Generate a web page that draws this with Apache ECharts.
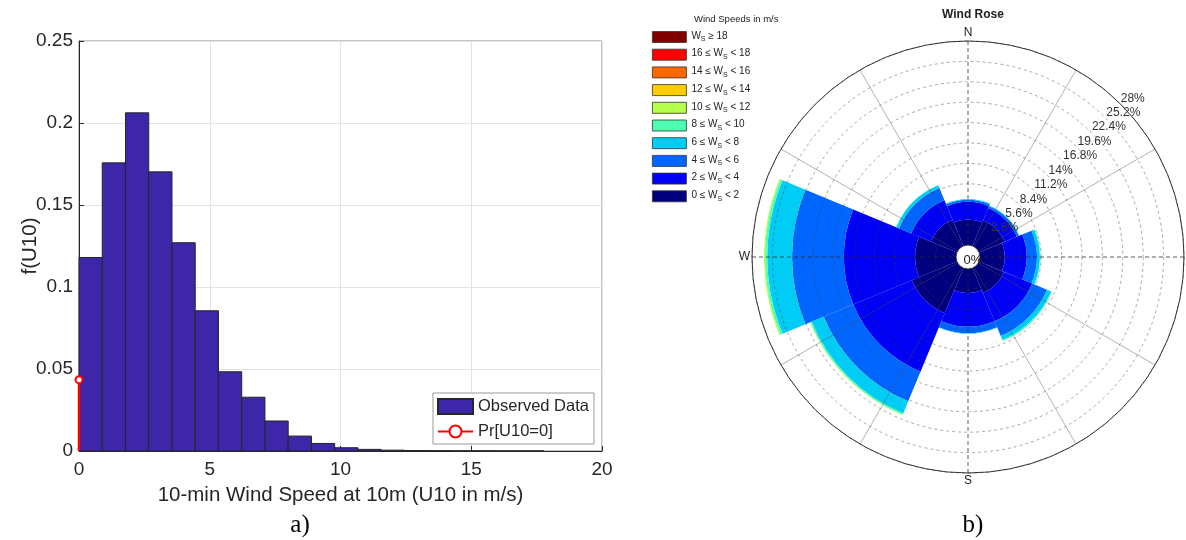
<!DOCTYPE html>
<html><head><meta charset="utf-8">
<script src="https://cdn.jsdelivr.net/npm/echarts@6/dist/echarts.min.js"></script>
<style>html,body{margin:0;padding:0;background:#fff}#c{width:1186px;height:540px}</style>
</head><body><div id="c"></div>
<script>
// ---------- Histogram (a) ----------
const binEdges = [0, 0.889, 1.778, 2.667, 3.556, 4.444, 5.333, 6.222, 7.111, 8.0, 8.889, 9.778, 10.667, 11.556, 12.444, 13.333, 14.222, 15.111, 16.0, 16.889, 17.778];
const density  = [0.118, 0.1757, 0.2062, 0.1702, 0.127, 0.0855, 0.0483, 0.0328, 0.0183, 0.0091, 0.0046, 0.0020, 0.0010, 0.0005, 0.0003, 0.0002, 0.0001, 0.0001, 0.00005, 0.00003];
const prU10Zero = 0.0435;
const xTickLabels = ['0', '5', '10', '15', '20'];
const yTickLabels = ['0', '0.05', '0.1', '0.15', '0.2', '0.25'];

// ---------- Wind rose (b) ----------
const directions = ['N', 'NE', 'E', 'SE', 'S', 'SW', 'W', 'NW'];
const bandNames = ['0 ≤ Ws < 2', '2 ≤ Ws < 4', '4 ≤ Ws < 6', '6 ≤ Ws < 8', '8 ≤ Ws < 10', '10 ≤ Ws < 12', '12 ≤ Ws < 14', '14 ≤ Ws < 16', '16 ≤ Ws < 18', 'Ws ≥ 18'];
const ws0_2   = [3.5, 3.8, 3.4, 3.7, 3.3, 6.7, 5.6, 3.9];
const ws2_4   = [2.4, 1.8, 3.0, 4.2, 4.6, 8.7, 9.8, 2.9];
const ws4_6   = [0.3, 0.3, 1.4, 2.2, 0.9, 4.4, 7.1, 1.8];
const ws6_8   = [0.1, 0.1, 0.4, 0.6, 0.05, 1.8, 3.4, 0.4];
const ws8_10  = [0, 0, 0.1, 0.15, 0, 0.2, 0.3, 0.05];
const ws10_12 = [0, 0, 0, 0, 0, 0.05, 0.15, 0];
const ws12_14 = [0, 0, 0, 0, 0, 0, 0, 0];
const ws14_16 = [0, 0, 0, 0, 0, 0, 0, 0];
const ws16_18 = [0, 0, 0, 0, 0, 0, 0, 0];
const ws18up  = [0, 0, 0, 0, 0, 0, 0, 0];
const ringLabels = ['', '2.8%', '5.6%', '8.4%', '11.2%', '14%', '16.8%', '19.6%', '22.4%', '25.2%', '28%'];
const compassLabels = ['N', 'E', 'S', 'W'];

const bandValues = [ws0_2, ws2_4, ws4_6, ws6_8, ws8_10, ws10_12, ws12_14, ws14_16, ws16_18, ws18up];
const bandColors = ['#00007f', '#0000f5', '#0066ff', '#00ccf5', '#4dffb0', '#b5ff4a', '#ffcc00', '#ff6600', '#ff0000', '#800000'];

const FONT = 'Liberation Sans, Arial, sans-serif';
const chart = echarts.init(document.getElementById('c'));

const histData = density.map((d, i) => [binEdges[i], binEdges[i + 1], d]);

const roseSeries = bandNames.map((name, i) => ({
  name: name,
  type: 'bar',
  coordinateSystem: 'polar',
  polarIndex: 0,
  stack: 'ws',
  barCategoryGap: '0%',
  data: bandValues[i],
  itemStyle: { color: bandColors[i] },
  z: 2
}));

function richName(name) {
  const parts = name.split('Ws');
  return '{m|' + parts[0] + 'W}{s|S}{m|' + parts[1] + '}';
}

const option = {
  animation: false,
  backgroundColor: '#fff',
  title: [
    { text: 'Wind Rose', left: 968, top: 4, textAlign: 'center',
      textStyle: { fontFamily: FONT, fontSize: 12, fontWeight: 'bold', color: '#222' } },
    { text: 'Wind Speeds in m/s', left: 689, top: 9,
      textStyle: { fontFamily: FONT, fontSize: 9.5, fontWeight: 'normal', color: '#222' } },
    { text: '0%', left: 968, top: 249, textAlign: 'center',
      textStyle: { fontFamily: FONT, fontSize: 13, fontWeight: 'normal', color: '#222' } },
    { text: 'a)', left: 295, top: 508, textAlign: 'center',
      textStyle: { fontFamily: 'Liberation Serif, Times New Roman, serif', fontSize: 25, fontWeight: 'normal', color: '#000' } },
    { text: 'b)', left: 968, top: 508, textAlign: 'center',
      textStyle: { fontFamily: 'Liberation Serif, Times New Roman, serif', fontSize: 25, fontWeight: 'normal', color: '#000' } }
  ],
  legend: [
    {
      data: [{ name: 'Observed Data', icon: 'rect' }, { name: 'Pr[U10=0]' }],
      orient: 'vertical', left: 433, top: 393,
      itemWidth: 35, itemHeight: 15, itemGap: 8,
      padding: [5, 5, 4, 4],
      backgroundColor: '#fff', borderColor: '#999', borderWidth: 1, borderRadius: 0,
      selectedMode: false,
      textStyle: { fontFamily: FONT, fontSize: 16.5, color: '#262626' }
    },
    {
      data: bandNames.slice().reverse(),
      orient: 'vertical', left: 652, top: 29,
      itemWidth: 34, itemHeight: 11, itemGap: 3.7,
      padding: 0, icon: 'rect', selectedMode: false,
      itemStyle: { borderColor: '#333', borderWidth: 0.8 },
      formatter: richName,
      textStyle: {
        fontFamily: FONT, fontSize: 10, color: '#222',
        rich: {
          m: { fontFamily: FONT, fontSize: 10, color: '#222', verticalAlign: 'top', lineHeight: 12 },
          s: { fontFamily: FONT, fontSize: 7, color: '#222', verticalAlign: 'bottom', lineHeight: 8, padding: [7, 0, 0, 0] }
        }
      }
    }
  ],
  grid: { left: 79, top: 41, width: 523, height: 410, show: true, borderColor: '#8a8a8a', borderWidth: 1 },
  xAxis: {
    type: 'value', min: 0, max: 20, interval: 5,
    name: '10-min Wind Speed at 10m (U10 in m/s)', nameLocation: 'middle', nameGap: 34,
    nameMoveOverlap: false,
    nameTextStyle: { fontFamily: FONT, fontSize: 20.5, color: '#262626' },
    axisLine: { onZero: false, lineStyle: { color: '#262626', width: 1 } },
    axisTick: { inside: true, length: 5, lineStyle: { color: '#262626' } },
    axisLabel: { fontFamily: FONT, fontSize: 19, color: '#262626', margin: 9,
      formatter: (v, i) => xTickLabels[i] },
    splitLine: { show: true, lineStyle: { color: '#e3e3e3', width: 1 } }
  },
  yAxis: {
    type: 'value', min: 0, max: 0.25, interval: 0.05,
    name: 'f(U10)', nameLocation: 'middle', nameGap: 38,
    nameMoveOverlap: false,
    nameTextStyle: { fontFamily: FONT, fontSize: 20.5, color: '#262626' },
    axisLine: { show: true, lineStyle: { color: '#262626', width: 1 } },
    axisTick: { show: true, inside: true, length: 5, lineStyle: { color: '#262626' } },
    axisLabel: { fontFamily: FONT, fontSize: 19, color: '#262626', margin: 6,
      formatter: (v, i) => yTickLabels[i] },
    splitLine: { show: true, lineStyle: { color: '#e3e3e3', width: 1 } }
  },
  polar: [
    { center: [968, 257], radius: [12, 216] },
    { center: [968, 257], radius: [12, 216] },
    { center: [968, 257], radius: [12, 216] },
    { center: [968, 257], radius: [12, 216] }
  ],
  angleAxis: [
    { polarIndex: 0, type: 'category', data: directions, startAngle: 112.5, clockwise: true,
      axisLine: { show: false }, axisTick: { show: false }, axisLabel: { show: false }, splitLine: { show: false } },
    { polarIndex: 1, type: 'value', min: 0, max: 360, interval: 30, startAngle: 90, clockwise: true, z: 10,
      axisLine: { show: true, lineStyle: { color: '#333', width: 1 } },
      axisTick: { show: false },
      axisLabel: { show: true, margin: 2, fontFamily: FONT, fontSize: 12, color: '#222',
        formatter: (v) => (v % 90 === 0 && v < 360) ? compassLabels[v / 90] : '' },
      splitLine: { show: true, lineStyle: { color: ['rgba(0,0,0,0)', 'rgba(80,80,80,0.55)', 'rgba(80,80,80,0.55)'], width: 0.8 } } },
    { polarIndex: 2, type: 'value', min: 0, max: 360, interval: 90, startAngle: 90, clockwise: true, z: 11,
      axisLine: { show: false }, axisTick: { show: false }, axisLabel: { show: false },
      splitLine: { show: true, lineStyle: { color: 'rgba(40,40,40,0.75)', type: [4, 3], width: 1 } } },
    { polarIndex: 3, type: 'value', min: 0, max: 360, startAngle: 45, clockwise: true,
      axisLine: { show: false }, axisTick: { show: false }, axisLabel: { show: false }, splitLine: { show: false } }
  ],
  radiusAxis: [
    { polarIndex: 0, min: 0, max: 28, show: false,
      axisLine: { show: false }, axisTick: { show: false }, axisLabel: { show: false }, splitLine: { show: false } },
    { polarIndex: 1, min: 0, max: 28, interval: 2.8, z: 10,
      axisLine: { show: false }, axisTick: { show: false }, axisLabel: { show: false },
      splitLine: { show: true, lineStyle: { color: ['rgba(0,0,0,0)', 'rgba(60,60,60,0.55)', 'rgba(60,60,60,0.55)', 'rgba(60,60,60,0.55)', 'rgba(60,60,60,0.55)', 'rgba(60,60,60,0.55)', 'rgba(60,60,60,0.55)', 'rgba(60,60,60,0.55)', 'rgba(60,60,60,0.55)', 'rgba(60,60,60,0.55)', 'rgba(60,60,60,0.55)'], type: [3, 3], width: 0.8 } } },
    { polarIndex: 2, min: 0, max: 28, show: false,
      axisLine: { show: false }, axisTick: { show: false }, axisLabel: { show: false }, splitLine: { show: false } },
    { polarIndex: 3, min: 0, max: 28, interval: 2.8, z: 12,
      axisLine: { show: false }, axisTick: { show: false }, splitLine: { show: false },
      axisLabel: { show: true, margin: 0, align: 'left', verticalAlign: 'bottom', rotate: 0,
        fontFamily: FONT, fontSize: 12, color: '#333',
        formatter: (v, i) => ringLabels[i] || '' } }
  ],
  series: [
    {
      name: 'Observed Data',
      type: 'custom',
      xAxisIndex: 0, yAxisIndex: 0,
      data: histData,
      encode: { x: [0, 1], y: 2 },
      itemStyle: { color: '#3e26a8', borderColor: '#262626', borderWidth: 1 },
      renderItem: function (params, api) {
        const p0 = api.coord([api.value(0), api.value(2)]);
        const p1 = api.coord([api.value(1), 0]);
        return {
          type: 'rect',
          shape: { x: p0[0], y: p0[1], width: p1[0] - p0[0], height: p1[1] - p0[1] },
          style: { fill: '#3e26a8', stroke: '#262626', lineWidth: 1 }
        };
      },
      z: 2
    },
    {
      name: 'Pr[U10=0]',
      type: 'line',
      xAxisIndex: 0, yAxisIndex: 0,
      clip: false,
      data: [{ value: [0, 0], symbol: 'none' }, { value: [0, prU10Zero], symbol: 'emptyCircle' }],
      symbolSize: 7,
      lineStyle: { color: '#ff0000', width: 2.5 },
      itemStyle: { color: '#ff0000', borderColor: '#ff0000', borderWidth: 1.5 },
      z: 4
    }
  ].concat(roseSeries)
};
chart.setOption(option);
</script>
</body></html>
